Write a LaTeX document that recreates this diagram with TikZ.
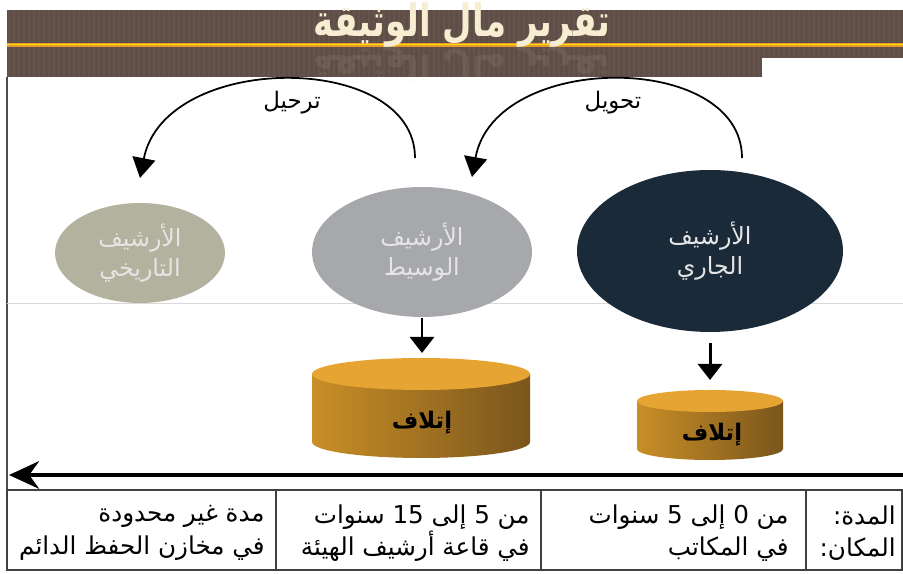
\documentclass[tikz,border=0pt]{standalone}
\usepackage{fontspec}
\newfontfamily\arabicfont[Script=Arabic]{DejaVu Sans}
\TeXXeTstate=1
\usetikzlibrary{arrows.meta, shapes.geometric}
\newcommand{\ar}[1]{\beginR #1\endR}
\newcommand{\num}[1]{\beginL #1\endL{}}
\definecolor{bandbrown}{HTML}{5E4E46}
\definecolor{bandorange}{HTML}{E59B2B}
\definecolor{histcol}{HTML}{B3B29E}
\definecolor{midcol}{HTML}{A6A8AB}
\definecolor{curcol}{HTML}{1B2A39}
\definecolor{golddark}{HTML}{7A561C}
\definecolor{goldmid}{HTML}{EAAA36}
\definecolor{goldleft}{HTML}{C98E27}
\definecolor{goldtop}{HTML}{E6A533}
\definecolor{titlecream}{HTML}{F7EDD2}

\begin{document}
\begin{tikzpicture}[x=0.02cm, y=0.02cm,
    arch/.style = {ellipse, inner sep=0pt, text=white!90!black, align=center, font=\arabicfont\fontsize{13.5}{17}\selectfont},
    arcarrow/.style = {line width=1pt, -{Triangle[length=0.4cm, width=0.46cm]}},
    downarrow/.style = {line width=1.7pt, -{Triangle[length=0.32cm, width=0.48cm]}},
    cell/.style = {anchor=east, align=right, inner sep=0pt, font=\arabicfont\fontsize{14}{18.5}\selectfont},
    lbl/.style = {inner sep=1pt, font=\arabicfont\fontsize{13}{15}\selectfont},
    titlefont/.style = {font=\arabicfont\bfseries\fontsize{22}{26}\selectfont, text=titlecream, xscale=0.88}]
    \fill[white] (0,0) rectangle (903,574);
    \useasboundingbox (0,0) rectangle (903,574);

    \fill[bandbrown] (7,497) rectangle (903,564);
    \foreach \x in {9,14,...,901} \draw[white, opacity=0.04, line width=0.8pt] (\x,497) -- (\x,564);
    \draw[bandorange, line width=2.5pt] (7,529) -- (903,529);
    \draw[orange!30!yellow, line width=0.5pt] (7,529.5) -- (903,529.5);
    \fill[white] (762,497) rectangle (903,516);
    \node[titlefont, yscale=1.15] (title) at (462,549) {\ar{تقرير مال الوثيقة}};
    \node[titlefont, opacity=0.08, yscale=-1] (titlerefl) at (462,509) {\ar{تقرير مال الوثيقة}};

    \draw[black!70, line width=0.8pt] (7,497) -- (7,84);
    \draw[black!15] (7,271) -- (903,271);

    \node[arch, fill=histcol, minimum width=3.4cm, minimum height=2cm] (hist) at (140,321) {\ar{الأرشيف}\\\ar{التاريخي}};
    \node[arch, fill=midcol, minimum width=4.4cm, minimum height=2.6cm] (mid) at (422,322) {\ar{الأرشيف}\\\ar{الوسيط}};
    \node[arch, fill=curcol, minimum width=5.32cm, minimum height=3.24cm] (cur) at (710,323) {\ar{الأرشيف}\\\ar{الجاري}};

    \coordinate (r1) at (415,416); \coordinate (t1) at (140,396);
    \coordinate (r2) at (742,416); \coordinate (t2) at (472,397);
    \draw[arcarrow] (r1) .. controls (415,523) and (165,523) .. (t1);
    \draw[arcarrow] (r2) .. controls (742,523) and (495,523) .. (t2);
    \node[lbl] (tarhil) at (292,471) {\ar{ترحيل}};
    \node[lbl] (tahwil) at (613,471) {\ar{تحويل}};

    \shade[left color=goldleft, middle color=goldmid, right color=golddark] (312,200) -- (312,132) arc[start angle=180, end angle=360, x radius=109, y radius=16] -- (530,200) -- cycle;
    \fill[goldtop] (421,200) ellipse [x radius=109, y radius=16];
    \shade[left color=goldleft, middle color=goldmid, right color=golddark] (637,173) -- (637,125) arc[start angle=180, end angle=360, x radius=73, y radius=11] -- (783,173) -- cycle;
    \fill[goldtop] (710,173) ellipse [x radius=73, y radius=11];
    \coordinate (bintop) at (422,216); \coordinate (sbintop) at (710,184);
    \node[lbl, font=\arabicfont\bfseries\fontsize{13}{15}\selectfont] (bin) at (422,151) {\ar{إتلاف}};
    \node[lbl, font=\arabicfont\bfseries\fontsize{13}{15}\selectfont] (sbin) at (712,139) {\ar{إتلاف}};
    \draw[downarrow, shorten <=0.02cm, shorten >=0.1cm] (mid.south) -- (bintop);
    \draw[downarrow, shorten <=0.22cm, shorten >=0.2cm] (cur.south) -- (sbintop);

    \coordinate (tl0) at (903,99); \coordinate (tl1) at (9,99);
    \draw[line width=2.2pt, -{Stealth[length=0.6cm, width=0.55cm]}] (tl0) -- (tl1);

    \draw[black!75, line width=1pt] (7,4) rectangle (902,84);
    \foreach \x in {276,541,806} \draw[black!75, line width=0.8pt] (\x,4) -- (\x,84);
    \node[cell] (c1) at (896,41) {\ar{المدة:}\\\ar{المكان:}};
    \node[cell] (c2) at (789,41) {\ar{من \num{0} إلى \num{5} سنوات}\\\ar{في المكاتب}};
    \node[cell] (c3) at (530,41) {\ar{من \num{5} إلى \num{15} سنوات}\\\ar{في قاعة أرشيف الهيئة}};
    \node[cell] (c4) at (265,41) {\ar{مدة غير محدودة}\\\ar{في مخازن الحفظ الدائم}};
\end{tikzpicture}
\end{document}
